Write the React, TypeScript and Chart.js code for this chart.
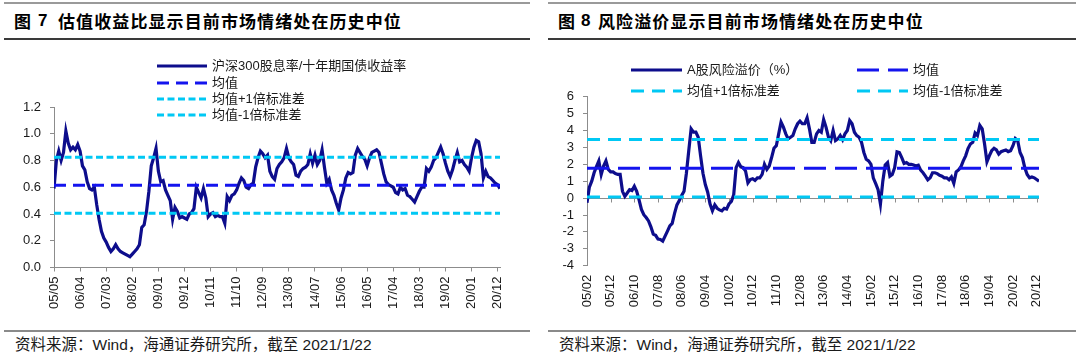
import React, { useEffect, useRef } from 'react';
import { Chart, registerables } from 'chart.js';

Chart.register(...registerables);

// ---------- Data: Figure 7 (估值收益比) ----------
const PE_START_YEAR = 2005;
const PE_START_MONTH = 5;
const PE_VALUES = [
  0.59, 0.80, 0.87, 0.80, 0.86, 1.02, 0.93, 0.88, 0.90, 0.88,
  0.92, 0.87, 0.76, 0.73, 0.64, 0.59, 0.58, 0.60, 0.47, 0.36,
  0.27, 0.22, 0.19, 0.15, 0.12, 0.14, 0.17, 0.14, 0.12, 0.11,
  0.10, 0.09, 0.08, 0.10, 0.12, 0.14, 0.17, 0.30, 0.32, 0.42,
  0.57, 0.76, 0.82, 0.89, 0.72, 0.64, 0.65, 0.58, 0.54, 0.50,
  0.36, 0.45, 0.42, 0.37, 0.38, 0.37, 0.36, 0.40, 0.41, 0.44,
  0.60, 0.56, 0.52, 0.59, 0.52, 0.38, 0.40, 0.41, 0.38, 0.39,
  0.38, 0.38, 0.33, 0.53, 0.50, 0.54, 0.55, 0.58, 0.63, 0.67,
  0.65, 0.60, 0.59, 0.62, 0.63, 0.75, 0.82, 0.87, 0.85, 0.82,
  0.84, 0.72, 0.68, 0.66, 0.74, 0.77, 0.79, 0.82, 0.89, 0.82,
  0.79, 0.77, 0.69, 0.68, 0.72, 0.74, 0.75, 0.77, 0.85, 0.78,
  0.84, 0.77, 0.80, 0.88, 0.75, 0.63, 0.66, 0.58, 0.54, 0.48,
  0.43, 0.52, 0.58, 0.67, 0.71, 0.70, 0.71, 0.84, 0.89, 0.86,
  0.83, 0.81, 0.76, 0.82, 0.86, 0.87, 0.88, 0.86, 0.78, 0.70,
  0.64, 0.62, 0.61, 0.60, 0.56, 0.55, 0.60, 0.58, 0.59, 0.54,
  0.53, 0.51, 0.49, 0.53, 0.57, 0.60, 0.60, 0.74, 0.72, 0.75,
  0.80, 0.82, 0.86, 0.90, 0.85, 0.78, 0.72, 0.68, 0.73, 0.80,
  0.86, 0.79, 0.80, 0.77, 0.75, 0.72, 0.82, 0.90, 0.95, 0.94,
  0.85, 0.67, 0.72, 0.68, 0.67, 0.65, 0.63, 0.62, 0.59,
];
const PE_TICKS = [
  '05/05', '06/04', '07/03', '08/02', '09/01', '09/12', '10/11', '11/10', '12/09',
  '13/08', '14/07', '15/06', '16/05', '17/04', '18/03', '19/02', '20/01', '20/12',
];
const PE_Y_TICKS = [0, 0.2, 0.4, 0.6, 0.8, 1.0, 1.2];
const PE_MEAN = 0.615;
const PE_UPPER = 0.825;
const PE_LOWER = 0.405;
const PE_NAMES = ['沪深300股息率/十年期国债收益率', '均值', '均值+1倍标准差', '均值-1倍标准差'];

// ---------- Data: Figure 8 (A股风险溢价) ----------
const ERP_START_YEAR = 2005;
const ERP_START_MONTH = 2;
const ERP_VALUES = [
  -0.28, 0.65, 1.0, 1.5, 1.86, 2.2, 1.4, 1.9, 2.2, 1.7,
  1.55, 1.55, 1.45, 1.4, 1.4, 0.4, 0.1, 0.3, 0.5, 0.45,
  0.7, 0.4, -0.1, -0.67, -0.98, -1.15, -1.35, -1.7, -2.13, -2.2,
  -2.42, -2.45, -2.55, -2.25, -1.95, -1.64, -1.5, -0.9, -0.4, -0.15,
  0.15, 0.4, 1.47, 2.8, 4.1, 3.9, 3.9, 3.6, 2.5, 1.47,
  0.8, 0.35, -0.35, -0.75, -0.4, -0.6, -0.7, -0.75, -0.6, -0.65,
  -0.35, -0.2, 0.2, 1.8, 2.1, 1.85, 1.8, 1.6, 0.9, 1.1,
  1.15, 1.05, 1.2, 1.2, 1.4, 2.0, 1.7, 1.9, 2.4, 2.95,
  3.1, 3.8, 4.5, 4.2, 3.8, 3.5, 3.6, 3.7, 4.1, 4.4,
  4.55, 4.4, 4.4, 4.75, 4.1, 3.3, 3.3, 3.8, 4.0, 3.9,
  4.65, 4.2, 3.62, 3.4, 4.0, 3.4, 3.5, 3.7, 3.45, 3.8,
  4.0, 4.59, 4.4, 3.9, 3.7, 3.6, 3.3, 2.7, 2.3, 2.2,
  2.0, 1.18, 0.85, 0.5, -0.35, 1.0, 1.96, 2.1, 1.3, 1.4,
  1.8, 2.74, 2.7, 2.4, 2.05, 2.1, 2.0, 2.0, 1.96, 1.9,
  1.95, 1.65, 1.5, 1.3, 1.08, 1.2, 1.5, 1.5, 1.45, 1.35,
  1.3, 1.2, 1.2, 1.08, 1.25, 0.88, 1.55, 1.67, 1.85, 2.2,
  2.5, 2.93, 3.2, 3.3, 3.85, 3.7, 4.3, 4.1, 3.2, 2.15,
  2.5, 2.8, 2.95, 2.85, 2.6, 2.75, 2.8, 2.85, 2.75, 2.8,
  3.1, 3.52, 3.4, 2.7, 2.4, 1.8, 1.4, 1.2, 1.25, 1.2,
  1.1, 1.0,
];
const ERP_TICKS = [
  '05/02', '05/12', '06/10', '07/08', '08/06', '09/04', '10/02', '10/12', '11/10', '12/08',
  '13/06', '14/04', '15/02', '15/12', '16/10', '17/08', '18/06', '19/04', '20/02', '20/12',
];
const ERP_Y_TICKS = [-4, -3, -2, -1, 0, 1, 2, 3, 4, 5, 6];
const ERP_MEAN = 1.77;
const ERP_UPPER = 3.47;
const ERP_LOWER = 0.06;
const ERP_NAMES = ['A股风险溢价（%）', '均值', '均值+1倍标准差', '均值-1倍标准差'];

// ---------- Styles ----------
const NAVY = '#0d0d8c';
const BLUE = '#1414ee';
const CYAN = '#00c8f4';
const AXIS_GRAY = '#8c8c8c';
const TEXT = '#1a1a1a';
const LATIN = "'Liberation Sans', Arial, 'Noto Sans CJK SC', sans-serif";

function buildDates(startYear: number, startMonth: number, n: number): string[] {
  const out: string[] = [];
  for (let i = 0; i < n; i++) {
    const t = startMonth - 1 + i;
    const y = startYear + Math.floor(t / 12);
    const m = (t % 12) + 1;
    out.push(`${String(y % 100).padStart(2, '0')}/${String(m).padStart(2, '0')}`);
  }
  return out;
}

const zeroTicksPlugin = {
  id: 'zeroTicks',
  beforeDatasetsDraw(chart: any) {
    const { ctx, scales } = chart;
    const x = scales.x;
    const y = scales.y;
    const y0 = Math.round(y.getPixelForValue(0)) + 0.5;
    ctx.save();
    ctx.strokeStyle = AXIS_GRAY;
    ctx.lineWidth = 1;
    x.ticks.forEach((t: any) => {
      const px = Math.round(x.getPixelForValue(t.value)) + 0.5;
      ctx.beginPath();
      ctx.moveTo(px, y0);
      ctx.lineTo(px, y0 + 4);
      ctx.stroke();
    });
    ctx.restore();
  },
};

interface ChartSpec {
  dates: string[];
  values: number[];
  ticks: string[];
  yTicks: number[];
  names: string[];
  mean: number;
  upper: number;
  lower: number;
  yDecimals: number;
  meanDash: number[];
  bandDash: number[];
  zeroAxis: boolean;
  yWidth: number;
  padTop: number;
  padRight: number;
  padBottom: number;
}

function makeConfig(p: ChartSpec): any {
  const last = p.values.length - 1;
  const tickIdx = p.ticks.map((t) => p.dates.indexOf(t));
  const flat = (v: number) => [
    { x: 0, y: v },
    { x: last, y: v },
  ];
  return {
    type: 'line',
    data: {
      datasets: [
        {
          label: p.names[0],
          data: p.values.map((v, i) => ({ x: i, y: v })),
          borderColor: NAVY,
          borderWidth: 3.2,
          pointRadius: 0,
          tension: 0,
          order: 1,
        },
        {
          label: p.names[1],
          data: flat(p.mean),
          borderColor: BLUE,
          borderWidth: 3,
          borderDash: p.meanDash,
          pointRadius: 0,
          order: 0,
        },
        {
          label: p.names[2],
          data: flat(p.upper),
          borderColor: CYAN,
          borderWidth: 3,
          borderDash: p.bandDash,
          pointRadius: 0,
          order: 0,
        },
        {
          label: p.names[3],
          data: flat(p.lower),
          borderColor: CYAN,
          borderWidth: 3,
          borderDash: p.bandDash,
          pointRadius: 0,
          order: 0,
        },
      ],
    },
    options: {
      animation: false,
      responsive: false,
      maintainAspectRatio: false,
      events: [],
      layout: { padding: { left: 0, top: p.padTop, right: p.padRight, bottom: p.padBottom } },
      plugins: { legend: { display: false }, tooltip: { enabled: false } },
      scales: {
        x: {
          type: 'linear',
          min: 0,
          max: last,
          afterBuildTicks: (ax: any) => {
            ax.ticks = tickIdx.map((v) => ({ value: v }));
          },
          afterFit: (ax: any) => {
            ax.height = 60;
          },
          border: { display: !p.zeroAxis, color: AXIS_GRAY, width: 1 },
          grid: {
            drawOnChartArea: false,
            tickLength: 4,
            tickColor: p.zeroAxis ? 'rgba(0,0,0,0)' : AXIS_GRAY,
          },
          ticks: {
            autoSkip: false,
            minRotation: 90,
            maxRotation: 90,
            padding: 5,
            color: TEXT,
            font: { family: LATIN, size: 13 },
            callback: (v: number) => p.dates[v] ?? '',
          },
        },
        y: {
          min: p.yTicks[0],
          max: p.yTicks[p.yTicks.length - 1],
          afterBuildTicks: (ax: any) => {
            ax.ticks = p.yTicks.map((v) => ({ value: v }));
          },
          afterFit: (ax: any) => {
            ax.width = p.yWidth;
          },
          border: { display: true, color: AXIS_GRAY, width: 1 },
          grid: {
            drawOnChartArea: p.zeroAxis,
            color: (ctx: any) => (ctx.tick && ctx.tick.value === 0 ? AXIS_GRAY : 'rgba(0,0,0,0)'),
            tickLength: 4,
            tickColor: AXIS_GRAY,
          },
          ticks: {
            autoSkip: false,
            padding: 9,
            color: TEXT,
            font: { family: LATIN, size: 13 },
            callback: (v: number) => Number(v).toFixed(p.yDecimals),
          },
        },
      },
    },
    plugins: p.zeroAxis ? [zeroTicksPlugin] : [],
  };
}

function ChartCanvas({ spec, left }: { spec: ChartSpec; left: number }) {
  const ref = useRef<HTMLCanvasElement | null>(null);
  useEffect(() => {
    if (!ref.current) return;
    const chart = new Chart(ref.current, makeConfig(spec));
    return () => chart.destroy();
  }, [spec]);
  return (
    <canvas
      ref={ref}
      width={540}
      height={358}
      style={{ position: 'absolute', left, top: 0, width: 540, height: 358, display: 'block' }}
    />
  );
}

interface LegendItem {
  label: string;
  color: string;
  dash: number[];
  x: number;
  y: number;
  w: number;
}

function Legend({ items }: { items: LegendItem[] }) {
  return (
    <>
      {items.map((it, i) => (
        <div key={i} style={{ position: 'absolute', left: it.x, top: it.y - 9, height: 18, display: 'flex', alignItems: 'center' }}>
          <svg width={it.w} height={6} style={{ display: 'block' }}>
            <line
              x1={0}
              y1={3}
              x2={it.w}
              y2={3}
              stroke={it.color}
              strokeWidth={3}
              strokeDasharray={it.dash.length ? it.dash.join(' ') : undefined}
            />
          </svg>
          <span
            style={{
              marginLeft: 5,
              fontFamily: "'Liberation Sans', 'Noto Sans CJK SC', sans-serif",
              fontSize: 13,
              color: TEXT,
              whiteSpace: 'nowrap',
              lineHeight: '18px',
            }}
          >
            {it.label}
          </span>
        </div>
      ))}
    </>
  );
}

function Panel({
  x,
  width,
  fig,
  title,
  digitX,
  restX,
}: {
  x: number;
  width: number;
  fig: string;
  title: string;
  digitX: number;
  restX: number;
}) {
  const titleFont: React.CSSProperties = {
    position: 'absolute',
    top: 9,
    fontFamily: "'Noto Sans CJK SC', 'Liberation Sans', sans-serif",
    fontWeight: 700,
    fontSize: 17,
    lineHeight: '24px',
    color: '#000',
    whiteSpace: 'nowrap',
  };
  return (
    <>
      <div style={{ position: 'absolute', left: x, top: 2, width, height: 2, background: '#9a9a9a' }} />
      <div style={{ ...titleFont, left: x + 10 }}>图</div>
      <div style={{ ...titleFont, left: digitX, fontFamily: LATIN }}>{fig}</div>
      <div style={{ ...titleFont, left: restX, letterSpacing: 1.1 }}>{title}</div>
      <div style={{ position: 'absolute', left: x, top: 38, width, height: 1.5, background: '#3a3a3a' }} />
      <div style={{ position: 'absolute', left: x, top: 330, width, height: 2, background: '#8a8a8a' }} />
      <div
        style={{
          position: 'absolute',
          left: x + 11,
          top: 336,
          fontFamily: "'Liberation Sans', 'Noto Sans CJK SC', sans-serif",
          fontSize: 15.5,
          lineHeight: '18px',
          color: TEXT,
          whiteSpace: 'pre',
        }}
      >
        资料来源：Wind，海通证券研究所，截至 2021/1/22
      </div>
    </>
  );
}

const PE_SPEC: ChartSpec = {
  dates: buildDates(PE_START_YEAR, PE_START_MONTH, PE_VALUES.length),
  values: PE_VALUES,
  ticks: PE_TICKS,
  yTicks: PE_Y_TICKS,
  names: PE_NAMES,
  mean: PE_MEAN,
  upper: PE_UPPER,
  lower: PE_LOWER,
  yDecimals: 1,
  meanDash: [12, 7],
  bandDash: [7, 3.5],
  zeroAxis: false,
  yWidth: 54,
  padTop: 107,
  padRight: 40,
  padBottom: 358 - 267.5 - 60,
};

const ERP_SPEC: ChartSpec = {
  dates: buildDates(ERP_START_YEAR, ERP_START_MONTH, ERP_VALUES.length),
  values: ERP_VALUES,
  ticks: ERP_TICKS,
  yTicks: ERP_Y_TICKS,
  names: ERP_NAMES,
  mean: ERP_MEAN,
  upper: ERP_UPPER,
  lower: ERP_LOWER,
  yDecimals: 0,
  meanDash: [22, 9],
  bandDash: [13, 8],
  zeroAxis: true,
  yWidth: 47,
  padTop: 96.7,
  padRight: 41,
  padBottom: 358 - 265.7 - 60,
};

const PE_LEGEND: LegendItem[] = [
  { label: PE_NAMES[0], color: NAVY, dash: [], x: 157, y: 66, w: 50 },
  { label: PE_NAMES[1], color: BLUE, dash: [12, 7], x: 157, y: 83, w: 50 },
  { label: PE_NAMES[2], color: CYAN, dash: [7, 3.5], x: 157, y: 99, w: 50 },
  { label: PE_NAMES[3], color: CYAN, dash: [7, 3.5], x: 157, y: 115, w: 50 },
];

const ERP_LEGEND: LegendItem[] = [
  { label: ERP_NAMES[0], color: NAVY, dash: [], x: 631, y: 70, w: 51 },
  { label: ERP_NAMES[1], color: BLUE, dash: [22, 9], x: 857, y: 70, w: 51 },
  { label: ERP_NAMES[2], color: CYAN, dash: [13, 8], x: 631, y: 91, w: 51 },
  { label: ERP_NAMES[3], color: CYAN, dash: [13, 8], x: 857, y: 91, w: 51 },
];

export default function App() {
  return (
    <div
      style={{
        position: 'absolute',
        left: 0,
        top: 0,
        width: 1080,
        height: 358,
        background: '#fff',
        overflow: 'hidden',
      }}
    >
      <Panel x={4} width={526} fig="7" title="估值收益比显示目前市场情绪处在历史中位" digitX={38} restX={58} />
      <Panel x={548} width={528} fig="8" title="风险溢价显示目前市场情绪处在历史中位" digitX={581} restX={598} />
      <ChartCanvas spec={PE_SPEC} left={0} />
      <ChartCanvas spec={ERP_SPEC} left={540} />
      <Legend items={PE_LEGEND} />
      <Legend items={ERP_LEGEND} />
    </div>
  );
}
